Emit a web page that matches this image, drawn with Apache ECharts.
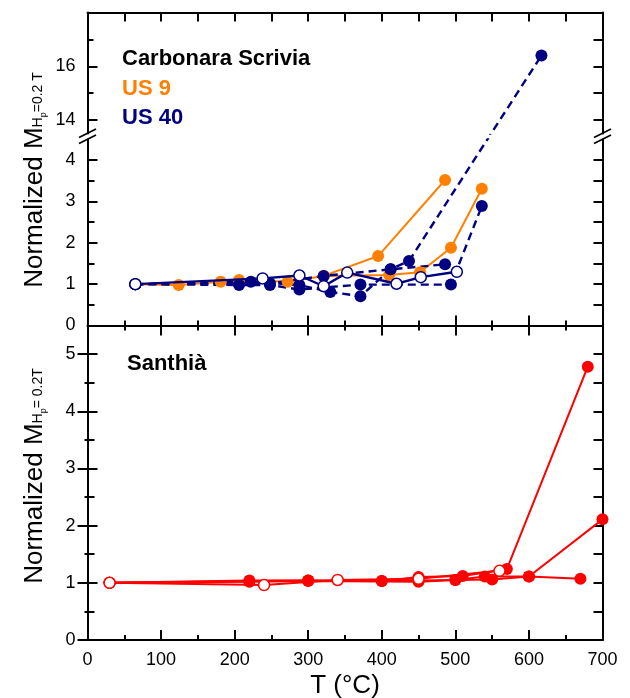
<!DOCTYPE html>
<html>
<head>
<meta charset="utf-8">
<script src="https://cdn.jsdelivr.net/npm/echarts@6/dist/echarts.min.js"></script>
<style>
  html, body { margin: 0; padding: 0; background: #fff; }
  #main { width: 630px; height: 698px; }
</style>
</head>
<body>
<div id="main"></div>
<script>
// step temperature (°C) and normalized moment

// Carbonara Scrivia, US 9 (orange, solid)
const us9A = [[65, 1.0], [124, 0.98], [181, 1.06], [206, 1.10], [272, 1.06], [321, 1.20], [395, 1.68], [486, 3.52]];
const us9B = [[321, 1.20], [410, 1.22], [452, 1.29], [494, 1.88], [536, 3.31]];

// Carbonara Scrivia, US 40 (navy, dashed / filled)
const us40A = [[65, 1.0], [206, 0.98], [248, 0.98], [288, 0.87], [371, 0.99], [494, 0.99], [536, 2.89]];
const us40B = [[65, 1.0], [222, 1.06], [288, 0.98], [330, 0.81], [371, 0.71], [412, 1.36], [437, 1.56], [617, 16.4]];
const us40C = [[65, 1.0], [248, 1.02], [321, 1.20], [412, 1.36], [486, 1.48]];
// US 40 (navy, solid / open)
const us40Open = [[65, 1.0], [238, 1.14], [288, 1.21], [321, 0.95], [353, 1.28], [420, 1.01], [453, 1.17], [502, 1.30]];

// Santhià (red)
const sanA = [[30, 1.0], [220, 1.04], [300, 1.04], [400, 1.03], [450, 1.10], [510, 1.12], [570, 1.24], [680, 4.78]];
const sanB = [[30, 1.0], [220, 1.02], [300, 1.03], [450, 1.02], [500, 1.05], [540, 1.11], [600, 1.11], [700, 2.11]];
const sanC = [[30, 1.0], [300, 1.04], [400, 1.03], [500, 1.05], [550, 1.06], [600, 1.11], [670, 1.07]];
const sanOpen = [[30, 1.0], [240, 0.96], [340, 1.05], [450, 1.07], [560, 1.21]];

// tick values
const upperMajor = [14, 16];
const upperMinor = [15, 17];
const lowerMajor = [0, 1, 2, 3, 4];
const lowerMinor = [0.5, 1.5, 2.5, 3.5];
const santhiaMajor = [0, 1, 2, 3, 4, 5];
const santhiaMinor = [0.5, 1.5, 2.5, 3.5, 4.5];

const ORANGE = '#ff8000';
const NAVY = '#000080';
const RED = '#ff0000';
const FONT = '"Liberation Sans", Arial, sans-serif';

const LEFT = 87.5, WIDTH = 515;

function xAxisFor(gridIndex, position, major, minor, extra) {
  return Object.assign({
    type: 'value', gridIndex: gridIndex, position: position,
    min: 0, max: 700, interval: 100,
    axisLine: { show: true, onZero: false, lineStyle: { color: '#000', width: 2 } },
    axisTick: { show: true, inside: true, length: major, lineStyle: { color: '#000', width: 2 } },
    minorTick: { show: true, splitNumber: 2, length: minor, lineStyle: { color: '#000', width: 2 } },
    axisLabel: { show: false },
    splitLine: { show: false }
  }, extra || {});
}

function yAxisFor(gridIndex, position, min, max, ticks, len, inside, showLine, labels) {
  return {
    type: 'value', gridIndex: gridIndex, position: position, min: min, max: max,
    axisLine: { show: showLine, onZero: false, lineStyle: { color: '#000', width: 2 } },
    axisTick: { show: true, inside: inside, length: len, customValues: ticks, lineStyle: { color: '#000', width: 2 } },
    axisLabel: labels ? {
      show: true, customValues: labels, margin: 12, color: '#000', fontSize: 18, fontFamily: FONT
    } : { show: false },
    splitLine: { show: false }
  };
}

function line(id, data, xi, yi, color, filled, dashed, width) {
  return {
    id: id, type: 'line', xAxisIndex: xi, yAxisIndex: yi, data: data,
    symbol: 'circle', symbolSize: filled ? 12 : 11, showAllSymbol: true,
    lineStyle: { color: color, width: width, type: dashed ? [8, 5] : 'solid' },
    itemStyle: filled ? { color: color, borderWidth: 0 } : { color: '#fff', borderColor: color, borderWidth: 1.5 },
    z: filled ? 3 : 4,
    silent: true
  };
}

const option = {
  animation: false,
  backgroundColor: '#fff',
  grid: [
    { left: LEFT, width: WIDTH, top: 12.5, height: 121, outerBoundsMode: 'none', containLabel: false },
    { left: LEFT, width: WIDTH, top: 139.5, height: 186, outerBoundsMode: 'none', containLabel: false },
    { left: LEFT, width: WIDTH, top: 325.5, height: 314.5, outerBoundsMode: 'none', containLabel: false }
  ],
  xAxis: [
    xAxisFor(0, 'top', 9, 9),
    xAxisFor(1, 'bottom', 10, 5),
    xAxisFor(2, 'top', 10, 5, { axisLine: { show: false, onZero: false } }),
    xAxisFor(2, 'bottom', 10, 5, {
      axisLabel: { show: true, margin: 11, color: '#000', fontSize: 18, fontFamily: FONT },
      name: 'T (°C)', nameLocation: 'middle', nameGap: 33,
      nameTextStyle: { color: '#000', fontSize: 26, fontFamily: FONT }
    })
  ],
  yAxis: [
    yAxisFor(0, 'left', 13.5, 18, upperMajor, 10, true, true, upperMajor),
    yAxisFor(0, 'left', 13.5, 18, upperMinor, 6, true, false),
    yAxisFor(0, 'right', 13.5, 18, upperMajor.concat(upperMinor), 9, true, true),
    yAxisFor(1, 'left', 0, 4.5, lowerMajor, 10, true, true, lowerMajor),
    yAxisFor(1, 'left', 0, 4.5, lowerMinor, 7, true, false),
    yAxisFor(1, 'right', 0, 4.5, lowerMajor.concat(lowerMinor), 9, true, true),
    yAxisFor(2, 'left', 0, 5.5, santhiaMajor, 10, true, true, santhiaMajor),
    yAxisFor(2, 'left', 0, 5.5, santhiaMajor, 10, false, false),
    yAxisFor(2, 'left', 0, 5.5, santhiaMinor, 7, true, false),
    yAxisFor(2, 'left', 0, 5.5, santhiaMinor, 3, false, false),
    yAxisFor(2, 'right', 0, 5.5, santhiaMajor.concat(santhiaMinor), 9, true, true)
  ],
  series: [
    line('us9A', us9A, 1, 3, ORANGE, true, false, 2),
    line('us9B', us9B, 1, 3, ORANGE, true, false, 2),
    line('us40A', us40A, 1, 3, NAVY, true, true, 2.4),
    line('us40B', us40B.slice(0, -1), 1, 3, NAVY, true, true, 2.4),
    line('us40C', us40C, 1, 3, NAVY, true, true, 2.4),
    // the last US 40 step crosses the axis break
    Object.assign(line('us40B-bridge-low', [], 1, 3, NAVY, true, true, 2.4), { symbol: 'none' }),
    line('us40B-bridge-high', [us40B[us40B.length - 1]], 0, 0, NAVY, true, true, 2.4),
    line('us40Open', us40Open, 1, 3, NAVY, false, false, 2.4),
    line('sanA', sanA, 3, 6, RED, true, false, 2),
    line('sanB', sanB, 3, 6, RED, true, false, 2),
    line('sanC', sanC, 3, 6, RED, true, false, 2),
    line('sanOpen', sanOpen, 3, 6, RED, false, false, 2)
  ],
  graphic: [
    // axis break marks
    { type: 'line', shape: { x1: 79, y1: 137.5, x2: 96, y2: 129 }, style: { stroke: '#000', lineWidth: 1.8 } },
    { type: 'line', shape: { x1: 79, y1: 143.5, x2: 96, y2: 135 }, style: { stroke: '#000', lineWidth: 1.8 } },
    { type: 'line', shape: { x1: 594, y1: 137.5, x2: 611, y2: 129 }, style: { stroke: '#000', lineWidth: 1.8 } },
    { type: 'line', shape: { x1: 594, y1: 143.5, x2: 611, y2: 135 }, style: { stroke: '#000', lineWidth: 1.8 } },
    // legend-like labels
    { type: 'text', x: 122, y: 59, style: { text: 'Carbonara Scrivia', fill: '#000', font: 'bold 22px ' + FONT, verticalAlign: 'middle' } },
    { type: 'text', x: 122, y: 89, style: { text: 'US 9', fill: ORANGE, font: 'bold 22px ' + FONT, verticalAlign: 'middle' } },
    { type: 'text', x: 122, y: 118, style: { text: 'US 40', fill: NAVY, font: 'bold 22px ' + FONT, verticalAlign: 'middle' } },
    { type: 'text', x: 127, y: 364, style: { text: 'Santhià', fill: '#000', font: 'bold 22px ' + FONT, verticalAlign: 'middle' } },
    // y axis titles
    {
      type: 'text', x: 35, y: 180, rotation: Math.PI / 2,
      style: {
        text: '{m|Normalized M}{s|H}{p|p}{s|=0.2 T}', align: 'center', verticalAlign: 'middle',
        rich: {
          m: { fontSize: 26, lineHeight: 27, padding: [0, 0, 10, 0], verticalAlign: 'top', fontFamily: FONT, color: '#000' },
          s: { fontSize: 14, lineHeight: 15, padding: [0, 0, 3, 0], verticalAlign: 'bottom', fontFamily: FONT, color: '#000' },
          p: { fontSize: 9, lineHeight: 10, verticalAlign: 'bottom', fontFamily: FONT, color: '#000' }
        }
      }
    },
    {
      type: 'text', x: 35, y: 476, rotation: Math.PI / 2,
      style: {
        text: '{m|Normalized M}{s|H}{p|p}{s|= 0.2T}', align: 'center', verticalAlign: 'middle',
        rich: {
          m: { fontSize: 26, lineHeight: 27, padding: [0, 0, 10, 0], verticalAlign: 'top', fontFamily: FONT, color: '#000' },
          s: { fontSize: 14, lineHeight: 15, padding: [0, 0, 3, 0], verticalAlign: 'bottom', fontFamily: FONT, color: '#000' },
          p: { fontSize: 9, lineHeight: 10, verticalAlign: 'bottom', fontFamily: FONT, color: '#000' }
        }
      }
    }
  ]
};

const chart = echarts.init(document.getElementById('main'), null, { renderer: 'canvas' });
chart.setOption(option);

// join the lower and upper part of the broken axis with one straight segment
const head = us40B[us40B.length - 2];
const tail = us40B[us40B.length - 1];
const lowFinder = { xAxisIndex: 1, yAxisIndex: 3 };
const highFinder = { xAxisIndex: 0, yAxisIndex: 0 };
const headPx = chart.convertToPixel(lowFinder, head);
const tailPx = chart.convertToPixel(highFinder, tail);
chart.setOption({
  series: [
    { id: 'us40B-bridge-low', data: [head, chart.convertFromPixel(lowFinder, tailPx)] },
    { id: 'us40B-bridge-high', data: [{ value: chart.convertFromPixel(highFinder, headPx), symbol: 'none' }, tail] }
  ]
});
</script>
</body>
</html>
